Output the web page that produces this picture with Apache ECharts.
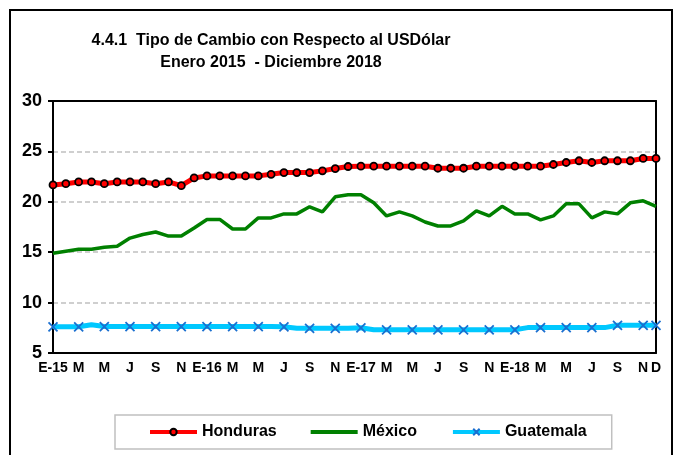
<!DOCTYPE html>
<html>
<head>
<meta charset="utf-8">
<script src="https://cdn.jsdelivr.net/npm/echarts@6/dist/echarts.min.js"></script>
<style>
html, body { margin: 0; padding: 0; background: #fff; }
#chart { width: 679px; height: 455px; }
</style>
</head>
<body>
<div id="chart"></div>
<script>
var chart = echarts.init(document.getElementById('chart'));

// month labels, Jan 2015 - Dec 2018
var months = ['E-15', 'F', 'M', 'A', 'M', 'J', 'J', 'A', 'S', 'O', 'N', 'D',
    'E-16', 'F', 'M', 'A', 'M', 'J', 'J', 'A', 'S', 'O', 'N', 'D',
    'E-17', 'F', 'M', 'A', 'M', 'J', 'J', 'A', 'S', 'O', 'N', 'D',
    'E-18', 'F', 'M', 'A', 'M', 'J', 'J', 'A', 'S', 'O', 'N', 'D'];

var honduras = [21.67, 21.8, 21.97, 21.97, 21.8, 21.97, 21.97, 21.97, 21.8, 21.97, 21.6, 22.37,
    22.57, 22.57, 22.57, 22.57, 22.57, 22.73, 22.9, 22.9, 22.9, 23.07, 23.3, 23.5,
    23.53, 23.53, 23.53, 23.53, 23.53, 23.53, 23.33, 23.33, 23.33, 23.53, 23.53, 23.53,
    23.53, 23.53, 23.53, 23.7, 23.9, 24.07, 23.9, 24.07, 24.07, 24.07, 24.3, 24.3];

var mexico = [14.9, 15.1, 15.3, 15.3, 15.5, 15.6, 16.4, 16.75, 17.0, 16.6, 16.6, 17.4,
    18.25, 18.25, 17.3, 17.3, 18.4, 18.4, 18.8, 18.8, 19.5, 19.0, 20.5, 20.7,
    20.7, 19.9, 18.6, 19.0, 18.6, 18.0, 17.6, 17.6, 18.1, 19.1, 18.6, 19.55,
    18.8, 18.8, 18.2, 18.6, 19.8, 19.8, 18.4, 19.0, 18.8, 19.9, 20.1, 19.55];

var guatemala = [7.6, 7.6, 7.6, 7.8, 7.62, 7.62, 7.62, 7.62, 7.62, 7.62, 7.62, 7.62,
    7.62, 7.62, 7.62, 7.62, 7.62, 7.62, 7.6, 7.45, 7.45, 7.45, 7.45, 7.45,
    7.5, 7.3, 7.3, 7.3, 7.3, 7.3, 7.3, 7.3, 7.3, 7.3, 7.3, 7.3,
    7.3, 7.52, 7.52, 7.52, 7.52, 7.52, 7.52, 7.52, 7.75, 7.75, 7.75, 7.75];

var FONT = "'Liberation Sans', Arial, sans-serif";
var xMark = 'path://M0,0L10,10M10,0L0,10';

var option = {
    animation: false,
    backgroundColor: '#fff',
    title: {
        text: '4.4.1  Tipo de Cambio con Respecto al USDólar\nEnero 2015  - Diciembre 2018',
        left: 266,
        top: 25,
        textAlign: 'center',
        textStyle: {
            fontFamily: FONT,
            fontWeight: 'bold',
            fontSize: 16,
            lineHeight: 22,
            color: '#000'
        }
    },
    graphic: [{
        type: 'rect',
        shape: { x: 10, y: 10, width: 662, height: 470 },
        style: { fill: 'none', stroke: '#000', lineWidth: 2 },
        silent: true
    }],
    legend: {
        left: 115,
        top: 415,
        padding: [9, 25, 9, 33],
        borderColor: '#c0c0c0',
        borderWidth: 1.5,
        itemWidth: 47,
        itemHeight: 8,
        itemGap: 34,
        lineStyle: { width: 4 },
        textStyle: {
            fontFamily: FONT,
            fontWeight: 'bold',
            fontSize: 16,
            color: '#000'
        },
        data: [
            'Honduras',
            { name: 'México', icon: 'path://M0,0L47,0L47,4L0,4Z' },
            'Guatemala'
        ]
    },
    grid: {
        left: 53,
        right: 23,
        top: 101,
        bottom: 102
    },
    xAxis: [{
        type: 'category',
        data: months,
        boundaryGap: false,
        axisLine: { lineStyle: { color: '#000', width: 2 } },
        axisTick: { show: false },
        axisLabel: {
            interval: function (i) { return i % 2 === 0 || i === 47; },
            margin: 8,
            color: '#000',
            fontFamily: FONT,
            fontWeight: 'bold',
            fontSize: 14
        },
        splitLine: { show: false }
    }, {
        type: 'category',
        data: months,
        position: 'top',
        boundaryGap: false,
        axisLine: { lineStyle: { color: '#000', width: 2 } },
        axisTick: { show: false },
        axisLabel: { show: false },
        splitLine: { show: false }
    }],
    yAxis: [{
        type: 'value',
        min: 5,
        max: 30,
        interval: 5,
        axisLine: { show: true, lineStyle: { color: '#000', width: 2 } },
        axisTick: { show: true, length: 5, lineStyle: { color: '#000', width: 2 } },
        axisLabel: {
            margin: 11,
            color: '#000',
            fontFamily: FONT,
            fontWeight: 'bold',
            fontSize: 18
        },
        splitLine: {
            show: true,
            lineStyle: { color: '#c0c0c0', width: 1.5, type: [5, 3] }
        }
    }, {
        type: 'value',
        position: 'right',
        min: 5,
        max: 30,
        interval: 5,
        axisLine: { show: true, lineStyle: { color: '#000', width: 2 } },
        axisTick: { show: false },
        axisLabel: { show: false },
        splitLine: { show: false }
    }],
    series: [{
        name: 'Honduras',
        type: 'line',
        data: honduras,
        symbol: 'circle',
        symbolSize: 7,
        lineStyle: { color: '#ff0000', width: 5 },
        itemStyle: { color: '#ff0000', borderColor: '#000', borderWidth: 1.8 },
        z: 3
    }, {
        name: 'México',
        type: 'line',
        data: mexico,
        symbol: 'none',
        lineStyle: { color: '#008000', width: 3.5 },
        itemStyle: { color: '#008000' },
        z: 2
    }, {
        name: 'Guatemala',
        type: 'line',
        data: guatemala,
        symbol: xMark,
        symbolSize: 9,
        lineStyle: { color: '#00c8ff', width: 5 },
        itemStyle: { color: '#1a6fd0', borderColor: '#1a6fd0', borderWidth: 1.8 },
        z: 4
    }]
};

chart.setOption(option);
</script>
</body>
</html>
